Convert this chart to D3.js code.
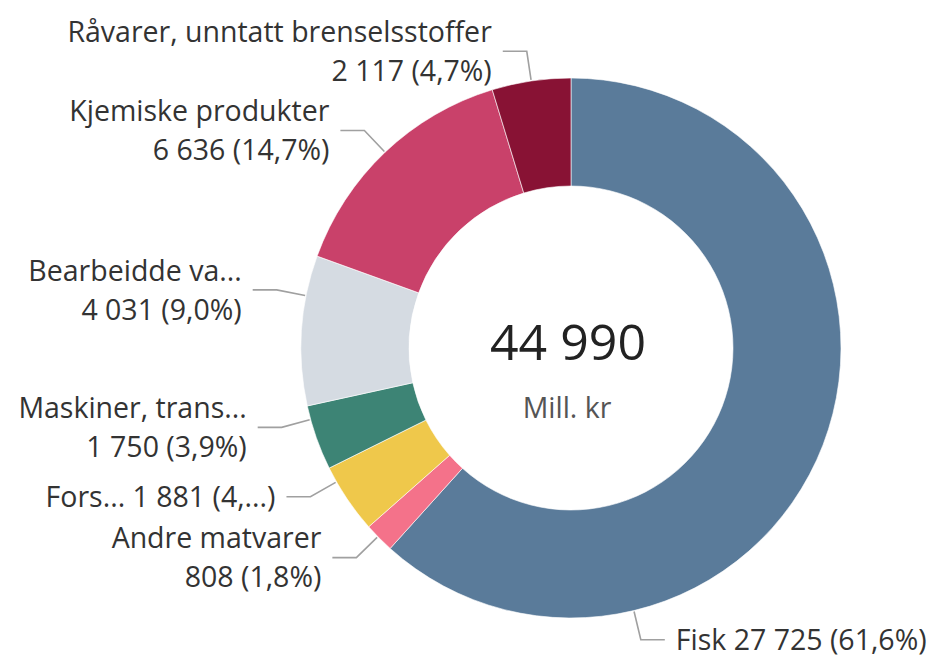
<!DOCTYPE html>
<html>
<head>
<meta charset="utf-8">
<script src="https://cdn.jsdelivr.net/npm/d3@7"></script>
<style>
  body { margin: 0; background: #fff; }
  svg { display: block; }
</style>
</head>
<body>
<div id="chart"></div>
<script>
// data (Mill. kr)
var categories = ["Fisk", "Andre matvarer", "Fors...", "Maskiner, trans...", "Bearbeidde va...", "Kjemiske produkter", "Råvarer, unntatt brenselsstoffer"];
var values = [27725, 808, 1881, 1750, 4031, 6636, 2117];
var colors = ["#5a7b9a", "#f4728a", "#efc84b", "#3d8475", "#d5dbe2", "#c9416a", "#881234"];
var total = 44990;
var unit = "Mill. kr";

// where along each slice the leader line starts (0..1), and label style
var labelLayout = {
  "Fisk": {at: 0.75, oneLine: true},
  "Andre matvarer": {at: 0.56},
  "Fors...": {at: 0.78, oneLine: true, clipPct: true},
  "Maskiner, trans...": {at: 0.79},
  "Bearbeidde va...": {at: 0.73},
  "Kjemiske produkter": {at: 0.5},
  "Råvarer, unntatt brenselsstoffer": {at: 0.5}
};

var width = 941, height = 658;
var cx = 571, cy = 348, outerR = 270, innerR = 162;

var svg = d3.select("#chart").append("svg")
  .attr("width", width)
  .attr("height", height);

var g = svg.append("g").attr("transform", "translate(" + cx + "," + cy + ")");

var data = categories.map(function (c, i) {
  return {name: c, value: values[i], color: colors[i]};
});

var pie = d3.pie().sort(null).value(function (d) { return d.value; });
var arc = d3.arc().innerRadius(innerR).outerRadius(outerR);
var arcs = pie(data);

g.selectAll("path.slice")
  .data(arcs)
  .enter().append("path")
  .attr("class", "slice")
  .attr("d", arc)
  .attr("fill", function (d) { return d.data.color; })
  .attr("stroke", "#fff")
  .attr("stroke-width", 0.6);

var fmtNum = function (v) { return d3.format(",")(v).replace(/,/g, " "); };
var fmtPct = function (v) { return (v / total * 100).toFixed(1).replace(".", ","); };

function pointAt(angle, r) {
  return [Math.sin(angle) * r, -Math.cos(angle) * r];
}

var labelFont = "'Open Sans', 'Noto Sans', sans-serif";
var fontSize = 28.5, lineGap = 39;

arcs.forEach(function (d) {
  var lay = labelLayout[d.data.name];
  var a = d.startAngle + (d.endAngle - d.startAngle) * lay.at;
  var p0 = pointAt(a, outerR + 1);
  var p1 = pointAt(a, outerR + 30);
  var right = a < Math.PI;
  var p2 = [p1[0] + (right ? 24 : -24), p1[1]];

  g.append("path")
    .attr("d", d3.line()([p0, p1, p2]))
    .attr("fill", "none")
    .attr("stroke", "#a0a0a0")
    .attr("stroke-width", 1.6);

  var tx = p2[0] + (right ? 11 : -11);
  var anchor = right ? "start" : "end";
  var pct = fmtPct(d.data.value);
  if (lay.clipPct) pct = pct.split(",")[0] + ",...";
  var numText = fmtNum(d.data.value) + " (" + pct + (lay.clipPct ? ")" : "%)");

  var t = g.append("text")
    .attr("x", tx)
    .attr("text-anchor", anchor)
    .attr("font-family", labelFont)
    .attr("font-size", fontSize)
    .attr("fill", "#333");

  if (lay.oneLine) {
    t.attr("y", p1[1]).attr("dy", "0.36em")
      .text(d.data.name + " " + numText);
  } else {
    t.append("tspan").attr("x", tx).attr("y", p1[1] - lineGap / 2).attr("dy", "0.36em").text(d.data.name);
    t.append("tspan").attr("x", tx).attr("y", p1[1] + lineGap / 2).attr("dy", "0.36em").text(numText);
  }
});

// centre total
g.append("text")
  .attr("x", -3).attr("y", -6)
  .attr("text-anchor", "middle")
  .attr("dy", "0.35em")
  .attr("font-family", labelFont)
  .attr("font-size", 50)
  .attr("fill", "#222")
  .text(fmtNum(total));

g.append("text")
  .attr("x", -4).attr("y", 60)
  .attr("text-anchor", "middle")
  .attr("dy", "0.35em")
  .attr("font-family", labelFont)
  .attr("font-size", 28.5)
  .attr("fill", "#555")
  .text(unit);
</script>
</body>
</html>
